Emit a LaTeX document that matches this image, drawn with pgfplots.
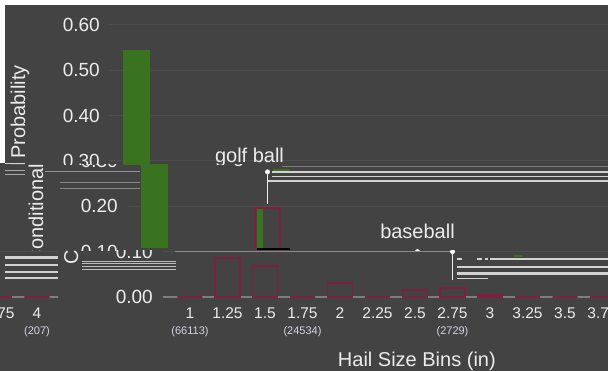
\documentclass[border=0pt]{standalone}
\usepackage{pgfplots}
\pgfplotsset{compat=1.18}
\usepackage{pgfplotstable}
\usepackage{fontspec}
\setmainfont{Liberation Sans}
\definecolor{bg}{HTML}{434343}
\definecolor{gridc}{HTML}{4D4D4D}
\definecolor{basec}{HTML}{7E7E7E}
\definecolor{barred}{HTML}{80203F}
\definecolor{bargreen}{HTML}{3A7320}
\definecolor{txt}{HTML}{ECECEC}
\definecolor{cnt}{HTML}{D4D4E4}
\definecolor{streak}{HTML}{D2D2D2}
\definecolor{streakg}{HTML}{7A7A7A}

\pgfplotstableread{
idx val
0 0.000
1 0.086
2 0.068
3 0.000
4 0.031
5 0.000
6 0.015
7 0.020
8 0.004
9 0.000
10 0.000
11 0.000
12 0.000
}\reddata

\pgfplotsset{chart/.style={
  scale only axis, width=500pt, height=272pt,
  xmin=-0.7333, xmax=12.6, ymin=0, ymax=0.6,
  clip=false,
  axis line style={draw=none}, tick style={draw=none}, major tick length=0pt,
  ymajorgrids, grid style={gridc, line width=1pt},
  ytick={0,0.1,0.2,0.3,0.4,0.5,0.6},
  xtick={0,...,12},
  xticklabels={1,1.25,1.5,1.75,2,2.25,2.5,2.75,3,3.25,3.5,3.75,4},
  yticklabel style={anchor=east, inner sep=0pt, xshift=-9.5pt, font=\fontsize{19}{19}\selectfont, text=txt},
  xticklabel style={anchor=base, inner sep=0pt, yshift=-21.5pt, font=\fontsize{15.5}{15.5}\selectfont, text=txt},
  /pgf/number format/.cd, fixed, fixed zerofill, precision=2, assume math mode=true,
}}

\newcommand\chartbody{%
  \addplot[basec, line width=1.5pt] coordinates {(-0.7333,0) (12.6,0)};
  \addplot[basec!90, line width=1.3pt] coordinates {(-0.4,0.1) (7,0.1)};
  \addplot[ybar, bar width=25pt, bar shift=0pt, draw=barred, line width=1.4pt, fill=none] table[x=idx,y=val]{\reddata};
  \addplot[fill=bargreen, draw=none] coordinates {(-0.36,0.108) (-0.36,0.545) (0.36,0.545) (0.36,0.108)} -- cycle;
  \addplot[fill=bargreen, draw=none] coordinates {(2.72,0.106) (2.72,0.196) (2.88,0.196) (2.88,0.106)} -- cycle;
  \addplot[draw=barred, line width=1.4pt] coordinates {(2.667,0.106) (2.667,0.196) (3.333,0.196) (3.333,0.106)};
  \addplot[black, line width=1.5pt] coordinates {(2.73,0.106) (3.6,0.106)};
  \addplot[white!85!gray, line width=1pt, mark=*, mark size=2pt, mark indices={2}, mark options={fill=white}] coordinates {(3,0.205) (3,0.276)};
  \addplot[white!85!gray, line width=1pt, mark=*, mark size=2pt, mark indices={2}, mark options={fill=white}] coordinates {(7,0.0375) (7,0.10)};
  \node[anchor=base, inner sep=0pt, text=txt, font=\fontsize{20}{20}\selectfont] at (axis cs:3,0.2956) {golf ball};
  \node[anchor=base, inner sep=0pt, text=txt, font=\fontsize{20}{20}\selectfont] at (axis cs:7,0.130) {baseball};
  \node[anchor=base, inner sep=0pt, text=cnt, font=\fontsize{11}{11}\selectfont, yshift=-38pt] at (axis cs:0,0) {(66113)};
  \node[anchor=base, inner sep=0pt, text=cnt, font=\fontsize{11}{11}\selectfont, yshift=-38pt] at (axis cs:3,0) {(24534)};
  \node[anchor=base, inner sep=0pt, text=cnt, font=\fontsize{11}{11}\selectfont, yshift=-38pt] at (axis cs:7,0) {(2729)};
  \node[anchor=base, inner sep=0pt, text=cnt, font=\fontsize{11}{11}\selectfont, yshift=-38pt] at (axis cs:12,0) {(207)};
  \node[anchor=base, inner sep=0pt, text=txt, font=\fontsize{20}{20}\selectfont, yshift=-70pt] at (axis cs:6.05,0) {Hail Size Bins (in)};
  \node[rotate=90, inner sep=0pt, text=txt, font=\fontsize{20}{20}\selectfont] at (axis cs:-3.12,0.292) {Conditional Probability};
}

\newcommand\streak[5]{\draw[#5, line width=#4pt] (#1pt,#3pt) -- (#2pt,#3pt);}

\begin{document}
\begin{tikzpicture}
\useasboundingbox (0,0) rectangle (608pt,371pt);
\fill[bg] (0,0) rectangle (608pt,371pt);
\begin{scope}
\clip (0,206pt) rectangle (608pt,371pt);
\begin{axis}[chart, at={(109.5pt,74pt)}]\chartbody\end{axis}
\end{scope}
\begin{scope}
\clip (0,120.5pt) rectangle (608pt,206pt);
\begin{axis}[chart, at={(127.5pt,74pt)}]\chartbody\end{axis}
\end{scope}
\begin{scope}
\clip (58pt,0) rectangle (608pt,120.5pt);
\begin{axis}[chart, at={(162.5pt,74pt)}]\chartbody\end{axis}
\end{scope}
\begin{scope}
\clip (0,0) rectangle (58pt,120.5pt);
\begin{axis}[chart, at={(-440.5pt,74pt)}]\chartbody\end{axis}
\end{scope}
% streaks
\streak{272}{608}{199}{1.2}{streak}
\streak{272}{608}{194.5}{1.2}{streak}
\streak{268}{608}{190}{1.2}{streak}
\streak{282}{608}{204.5}{1}{streakg}
\streak{273}{290}{201}{1.2}{bargreen}
\streak{490}{608}{112}{2.5}{streak}
\streak{457}{462}{112}{2.5}{streak}
\streak{477}{482}{112}{2.5}{streak}
\streak{485}{488}{112}{2.5}{streak}
\streak{514}{523}{115}{1.5}{bargreen}
\streak{457}{608}{104}{2.5}{streak}
\streak{457}{608}{97.5}{2.5}{streak}
\streak{457}{488}{92.5}{1}{streak}
\streak{5}{58}{113}{3}{streak}
\streak{5}{58}{105.5}{2}{streak}
\streak{5}{58}{99}{2.5}{streak}
\streak{5}{58}{93}{1.2}{streak}
\streak{82}{176}{109.3}{1}{streak!90!black}
\streak{82}{176}{107}{1}{streak!90!black}
\streak{82}{176}{104.3}{1}{streak!90!black}
\streak{82}{176}{101.7}{1}{streak!90!black}
\streak{5}{25}{207.5}{1}{streak}
\streak{5}{25}{200}{1}{streak!80!black}
\streak{5}{25}{196}{1}{streak!80!black}
\streak{45}{140}{199}{1}{streak!70!black}
\streak{60}{140}{188}{1}{streak!65!black}
\streak{60}{140}{182}{1}{streak!65!black}
% borders
\fill[white] (0,366pt) rectangle (608pt,371pt);
\fill[white] (0,208pt) rectangle (5pt,371pt);
\end{tikzpicture}
\end{document}
